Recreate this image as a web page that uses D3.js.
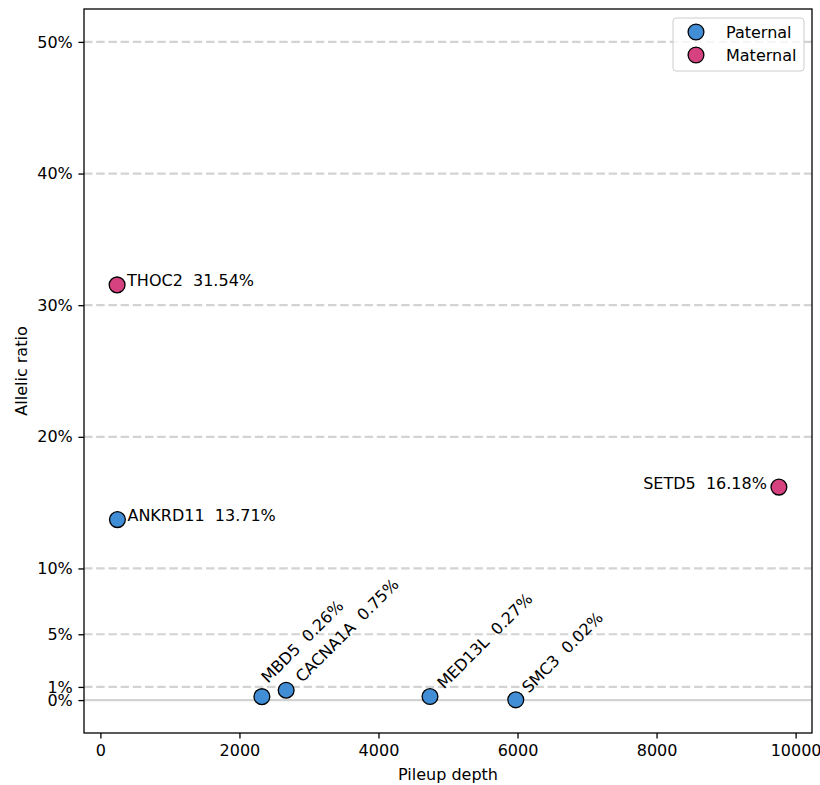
<!DOCTYPE html>
<html><head><meta charset="utf-8">
<script src="https://cdn.jsdelivr.net/npm/d3@7"></script>
<style>body{margin:0;background:#fff;} text{font-family:"DejaVu Sans",sans-serif;}</style>
</head><body>
<svg id="c" width="820" height="785"></svg>
<script>
const genes = ["THOC2","ANKRD11","SETD5","MBD5","CACNA1A","MED13L","SMC3"];
const depth = [240, 245, 9760, 2323, 2672, 4741, 5975];
const ratio = [31.54, 13.71, 16.18, 0.26, 0.75, 0.27, 0.02];
const parent = ["Maternal","Paternal","Maternal","Paternal","Paternal","Paternal","Paternal"];
const yTicks = [0,1,5,10,20,30,40,50];
const gridLines = [1,5,10,20,30,40,50];
const xTicks = [0,2000,4000,6000,8000,10000];
const legendItems = ["Paternal","Maternal"];

// layout / style
const colors = {Paternal:"#428ed6", Maternal:"#d6427f"};
const labelOffset = {
  THOC2:{dx:10,dy:1.5,mode:"h",anchor:"start"},
  ANKRD11:{dx:10,dy:1.5,mode:"h",anchor:"start"},
  SETD5:{dx:-12,dy:1.5,mode:"h",anchor:"end"},
  MBD5:{dx:6,dy:-13,mode:"r"},
  CACNA1A:{dx:16,dy:-7,mode:"r"},
  MED13L:{dx:14,dy:-7,mode:"r"},
  SMC3:{dx:13,dy:-6,mode:"r"}
};
const FS = 16;

const svg = d3.select("#c");
const L=84, R=812, T=9, B=733;
const xmin=d3.min(depth), xmax=d3.max(depth), xm=(xmax-xmin)*0.05;
const x = d3.scaleLinear().domain([xmin-xm, xmax+xm]).range([L,R]);
const y = d3.scaleLinear().domain([-2.5,52.5]).range([B,T]);

// grid
svg.append("g").selectAll("line").data(gridLines).join("line")
  .attr("x1",L).attr("x2",R).attr("y1",d=>y(d)).attr("y2",d=>y(d))
  .attr("stroke","#d3d3d3").attr("stroke-width",2.2).attr("stroke-dasharray","8.5,3.7");
svg.append("line").attr("x1",L).attr("x2",R).attr("y1",y(0)).attr("y2",y(0))
  .attr("stroke","#d3d3d3").attr("stroke-width",2.4);

// axes
const xa = svg.append("g").attr("transform",`translate(0,${B})`)
  .call(d3.axisBottom(x).tickValues(xTicks).tickFormat(d3.format("d")).tickSize(5.6).tickPadding(5.6));
const ya = svg.append("g").attr("transform",`translate(${L},0)`)
  .call(d3.axisLeft(y).tickValues(yTicks).tickFormat(d=>d+"%").tickSize(5.6).tickPadding(5.6));
[xa,ya].forEach(a=>{a.select(".domain").remove();
  a.selectAll("text").attr("font-size",FS).attr("fill","#000").style("font-family","DejaVu Sans");
  a.selectAll("line").attr("stroke","#000").attr("stroke-width",1.3);});
svg.append("rect").attr("x",L).attr("y",T).attr("width",R-L).attr("height",B-T)
  .attr("fill","none").attr("stroke","#000").attr("stroke-width",1.3);

// points
const data = genes.map((g,i)=>({g, d:depth[i], r:ratio[i], p:parent[i]}));
svg.append("g").selectAll("circle").data(data).join("circle")
  .attr("cx",d=>x(d.d)).attr("cy",d=>y(d.r)).attr("r",7.9)
  .attr("fill",d=>colors[d.p]).attr("stroke","#000").attr("stroke-width",1.3);

// labels
const lab = svg.append("g");
data.forEach(d=>{
  const px=x(d.d), py=y(d.r), o=labelOffset[d.g];
  const t = `${d.g}\u00a0\u00a0${d.r.toFixed(2)}%`;
  if(o.mode==="h"){
    lab.append("text").attr("x",px+o.dx).attr("y",py+o.dy).attr("text-anchor",o.anchor).attr("font-size",FS).text(t);
  } else {
    lab.append("text").attr("transform",`translate(${px+o.dx},${py+o.dy}) rotate(-45)`)
      .attr("font-size",FS).text(t);
  }
});

// axis labels
svg.append("text").attr("x",(L+R)/2).attr("y",780).attr("text-anchor","middle").attr("font-size",FS).text("Pileup depth");
svg.append("text").attr("transform",`translate(27,${(T+B)/2}) rotate(-90)`).attr("text-anchor","middle").attr("font-size",FS).text("Allelic ratio");

// legend
const lg = svg.append("g");
lg.append("rect").attr("x",673).attr("y",18).attr("width",131).attr("height",53).attr("rx",3)
  .attr("fill","#fff").attr("fill-opacity",0.8).attr("stroke","#ccc").attr("stroke-width",1);
legendItems.forEach((k,i)=>{
  lg.append("circle").attr("cx",696).attr("cy",32+i*23).attr("r",7.9).attr("fill",colors[k]).attr("stroke","#000").attr("stroke-width",1.3);
  lg.append("text").attr("x",726).attr("y",38+i*23).attr("font-size",FS).text(k);
});
</script>
</body></html>
